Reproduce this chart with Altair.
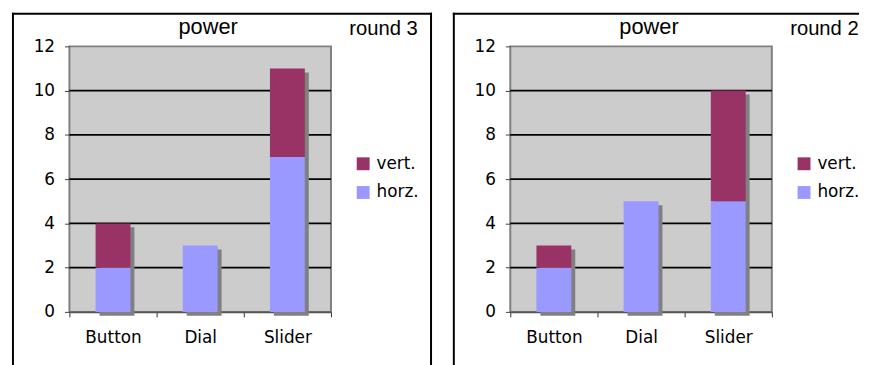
import altair as alt
import pandas as pd

CATEGORIES = ["Button", "Dial", "Slider"]
SERIES = ["vert.", "horz."]
COLORS = ["#993366", "#9999FF"]
ROUND3_HORZ = [2, 3, 7]
ROUND3_VERT = [2, 0, 4]
ROUND2_HORZ = [2, 5, 5]
ROUND2_VERT = [1, 0, 5]
Y_TICKS = [0, 2, 4, 6, 8, 10, 12]
GRID_VALUES = [2, 4, 6, 8, 10]
TITLE = "power"
ROUND_LABELS = ["round 3", "round 2"]

W, H = 264, 268
AXFONT = "DejaVu Sans"
TFONT = "Liberation Sans"


def panel(horz, vert, round_label, right_edge):
    rows = []
    for c, h, v in zip(CATEGORIES, horz, vert):
        rows.append({"cat": c, "series": "horz.", "value": h, "ord": 0})
        rows.append({"cat": c, "series": "vert.", "value": v, "ord": 1})
    df = pd.DataFrame(rows)
    tot = pd.DataFrame({"cat": CATEGORIES, "total": [h + v for h, v in zip(horz, vert)]})
    grid = pd.DataFrame({"g": GRID_VALUES})
    one = pd.DataFrame({"t": [TITLE]})
    rnd = pd.DataFrame({"t": [round_label]})

    xaxis = alt.Axis(title=None, labelAngle=0, tickBand="extent", labelFont=AXFONT,
                     labelFontSize=17, labelColor="black", labelPadding=13,
                     tickSize=5, tickColor="#333333", tickWidth=1,
                     domainColor="#555555", domainWidth=2, grid=False)
    xscale = alt.Scale(paddingInner=0, paddingOuter=0)
    yaxis = alt.Axis(title=None, values=Y_TICKS, grid=False, domain=False,
                     labelFont=AXFONT, labelFontSize=17, labelColor="black",
                     labelPadding=10, tickSize=5, tickColor="#444444", tickWidth=1)
    yscale = alt.Scale(domain=[0, 12], nice=False, zero=True)

    def X():
        return alt.X("cat:N", sort=CATEGORIES, scale=xscale, axis=xaxis)

    grid_l = alt.Chart(grid).mark_rule(color="black", strokeWidth=2).encode(
        y=alt.Y("g:Q", scale=yscale, axis=yaxis))

    shadow = alt.Chart(tot).mark_bar(color="#808080", xOffset=4, yOffset=4,
                                     width={"band": 0.4}).encode(
        x=X(), y=alt.Y("total:Q", scale=yscale, axis=yaxis))

    bars = alt.Chart(df).mark_bar(width={"band": 0.4}).encode(
        x=X(),
        y=alt.Y("value:Q", scale=yscale, axis=yaxis, stack="zero"),
        color=alt.Color("series:N", scale=alt.Scale(domain=SERIES, range=COLORS),
                        legend=alt.Legend(title=None, orient="none", legendX=288, legendY=110,
                                          symbolType="square", symbolSize=169,
                                          symbolStrokeWidth=0, symbolOpacity=1,
                                          labelFont=AXFONT, labelFontSize=17,
                                          labelColor="black", labelOffset=5,
                                          rowPadding=11, padding=0)),
        order=alt.Order("ord:Q"))

    # panel frame (Excel chart-area border)
    fr = alt.Chart(one).mark_rule(color="black", strokeWidth=2)
    frame_layers = [
        fr.encode(x=alt.value(-57), y=alt.value(-34), y2=alt.value(330)),
        fr.encode(x=alt.value(-58), x2=alt.value(right_edge if right_edge else 352), y=alt.value(-33)),
    ]
    if right_edge:
        frame_layers.append(fr.encode(x=alt.value(right_edge - 1), y=alt.value(-34), y2=alt.value(330)))

    title = alt.Chart(one).mark_text(font=TFONT, fontSize=22, align="center",
                                     baseline="alphabetic", color="black").encode(
        x=alt.value(140), y=alt.value(-12), text="t:N")

    rtext = alt.Chart(rnd).mark_text(font=TFONT, fontSize=20.4, align="left",
                                     baseline="alphabetic", color="black").encode(
        x=alt.value(282.5), y=alt.value(-11.5), text="t:N")

    return alt.layer(grid_l, shadow, bars, *frame_layers, title, rtext).properties(width=W, height=H)


left = panel(ROUND3_HORZ, ROUND3_VERT, ROUND_LABELS[0], 366)
right = panel(ROUND2_HORZ, ROUND2_VERT, ROUND_LABELS[1], None)

chart = alt.hconcat(left, right, spacing=17).resolve_scale(
    color="independent").resolve_legend(color="independent").properties(
    padding={"left": 2, "top": 1, "right": 0, "bottom": 0}).configure_view(
    fill="#CCCCCC", stroke="#808080", strokeWidth=2)

chart.save("out.html", embed_options={"renderer": "svg", "actions": False})
